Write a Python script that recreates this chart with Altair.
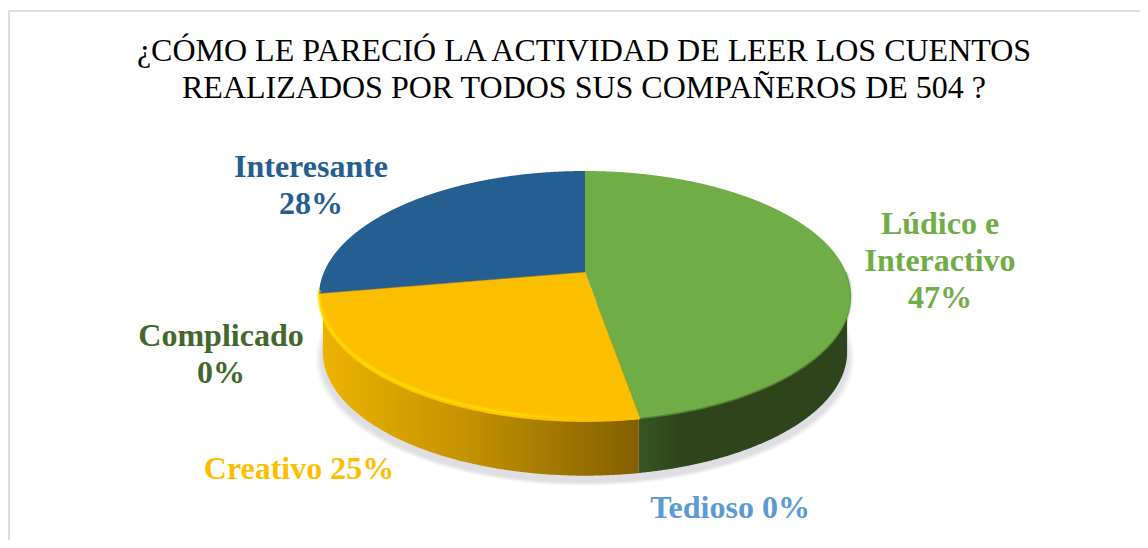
import numpy as np
import pandas as pd
import altair as alt

title_lines = ["¿CÓMO LE PARECIÓ LA ACTIVIDAD DE LEER LOS CUENTOS",
               "REALIZADOS POR TODOS SUS COMPAÑEROS DE 504 ?"]
title_y = [51, 88]
categories = ["Lúdico e Interactivo", "Tedioso", "Creativo", "Complicado", "Interesante"]
values = [47.25, 0, 25, 0, 27.75]
colors = ["#70AD47", "#5B9BD5", "#FCBF00", "#43682B", "#255E91"]
label_lines = [["Lúdico e", "Interactivo", "47%"], ["Tedioso 0%"], ["Creativo 25%"],
               ["Complicado", "0%"], ["Interesante", "28%"]]
label_x = [940, 730, 299, 221, 311]
label_y = [224, 508, 469, 336, 167]
LINE = 37

# page geometry
W, H = 1132, 532
X0, Y0 = 8, 8
xs = alt.Scale(domain=[X0, X0 + W], range=[0, W], nice=False, zero=False)
ys = alt.Scale(domain=[Y0 + H, Y0], range=[H, 0], nice=False, zero=False)

# perspective view of the pie disc
CX, CY, B, A, K, DEPTH, SB = 585.0, 272.0, 261.0, 120.7, 0.195, 56.0, 0.985


def project(theta, s=1.0, dy=0.0):
    u, v = np.sin(theta), np.cos(theta)
    d = 1 + K * v
    return CX + s * B * u / d, CY + dy - s * A * v / d


def span(px, py, n=240):
    """Upper / lower edge of a convex polygon as a function of x."""
    grid = np.unique(np.concatenate([np.linspace(px.min(), px.max(), n), px]))
    lo, hi = [], []
    x0, y0, x1, y1 = px, py, np.roll(px, -1), np.roll(py, -1)
    for g in grid:
        ys_ = []
        for a, b, c, d in zip(x0, y0, x1, y1):
            if min(a, c) - 1e-9 <= g <= max(a, c) + 1e-9:
                if abs(c - a) < 1e-9:
                    ys_ += [b, d]
                else:
                    ys_.append(b + (d - b) * (g - a) / (c - a))
        lo.append(min(ys_))
        hi.append(max(ys_))
    return pd.DataFrame({"x": grid, "y": lo, "y2": hi})


def area(df, **mark):
    return alt.Chart(df).mark_area(**mark).encode(
        x=alt.X("x:Q", scale=xs, axis=None),
        y=alt.Y("y:Q", scale=ys, axis=None),
        y2="y2:Q",
    )


def line(df, **mark):
    return alt.Chart(df).mark_line(**mark).encode(
        x=alt.X("x:Q", scale=xs, axis=None),
        y=alt.Y("y:Q", scale=ys, axis=None),
        order="i:Q",
    )


def grad(*stops):
    return alt.Gradient(gradient="linear", x1=0, x2=1, y1=0, y2=0,
                        stops=[alt.GradientStop(offset=o, color=c) for o, c in stops])


cum = np.cumsum([0] + values)
ang = 2 * np.pi * cum / cum[-1]
start = dict(zip(categories, ang[:-1]))
end = dict(zip(categories, ang[1:]))
t_split = end["Lúdico e Interactivo"]
t_yb = end["Complicado"]

layers = []

# frame
frame_h = pd.DataFrame({"x": [9], "x2": [1140], "y": [11]})
frame_v = pd.DataFrame({"x": [9], "y": [10], "y2": [540]})
layers.append(alt.Chart(frame_h).mark_rule(color="#DDDDDD", strokeWidth=2).encode(
    x=alt.X("x:Q", scale=xs, axis=None), x2="x2:Q", y=alt.Y("y:Q", scale=ys, axis=None)))
layers.append(alt.Chart(frame_v).mark_rule(color="#DDDDDD", strokeWidth=2).encode(
    x=alt.X("x:Q", scale=xs, axis=None), y=alt.Y("y:Q", scale=ys, axis=None), y2="y2:Q"))

# soft shadow
circle = np.linspace(0, 2 * np.pi, 361)[:-1]
for s, dy in [(1.012, 62), (1.006, 62), (1.000, 62), (0.995, 62), (0.990, 62)]:
    px, py = project(circle, s, dy)
    layers.append(area(span(px, py), color="#7F7F90", opacity=0.055))

# side wall
px, py = project(circle, SB, DEPTH)
full = span(px, py)
split_x = project(np.array([t_split]), SB, DEPTH)[0][0]
wall_r = full[full.x >= split_x - 1].assign(y=CY + 30)
wall_l = full[full.x <= split_x].assign(y=CY + 30)
layers.append(area(wall_r, color=grad((0, "#375523"), (0.2, "#2E451C"), (1, "#2E451B"))))
layers.append(area(wall_l, color=grad((0, "#EDB300"), (0.45, "#C49300"), (1, "#835F00"))))

# top surface slices
for c, v, col in zip(categories, values, colors):
    if v <= 0:
        continue
    t = np.linspace(start[c], end[c], 200)
    px, py = project(t)
    px = np.concatenate([[CX], px])
    py = np.concatenate([[CY], py])
    layers.append(area(span(px, py), color=col))

# rim highlights
t = np.linspace(np.pi * 0.5, t_split, 120)
px, py = project(t)
rim = pd.DataFrame({"x": px, "y": py, "i": range(len(t))})
layers.append(line(rim, strokeWidth=3, stroke=grad(
    (0, "rgba(46,69,28,0.45)"), (0.8, "rgba(46,69,28,0.45)"), (1, "rgba(46,69,28,0.15)"))))
t = np.linspace(t_split, t_yb, 120)
px, py = project(t)
rim = pd.DataFrame({"x": px, "y": py - 3.5, "i": range(len(t))})
layers.append(line(rim, strokeWidth=5, stroke=grad(
    (0, "rgba(255,222,0,0.35)"), (0.6, "rgba(255,222,0,0.35)"), (1, "rgba(252,191,0,0)"))))
layers.append(line(rim, strokeWidth=1.5, stroke=grad(
    (0, "rgba(255,225,0,0.8)"), (0.6, "rgba(255,225,0,0.8)"), (1, "rgba(252,191,0,0)"))))
# slice edge between blue and yellow
px, py = project(np.array([t_yb]))
edge = pd.DataFrame({"x": [CX, px[0]], "y": [CY, py[0]], "i": [0, 1]})
layers.append(line(edge, color="#7A6A30", strokeWidth=1, opacity=0.6))

# labels
rows = []
for c, lines, x, y in zip(categories, label_lines, label_x, label_y):
    for i, s in enumerate(lines):
        rows.append({"x": x, "y": y + i * LINE, "text": s, "cat": c})
labels = pd.DataFrame(rows)
layers.append(alt.Chart(labels).mark_text(
    font="Liberation Serif", fontWeight="bold", fontSize=32, baseline="middle", align="center"
).encode(
    x=alt.X("x:Q", scale=xs, axis=None),
    y=alt.Y("y:Q", scale=ys, axis=None),
    text="text:N",
    color=alt.Color("cat:N", scale=alt.Scale(domain=categories, range=colors), legend=None),
))

# title
titles = pd.DataFrame({"x": [584, 584], "y": title_y, "text": title_lines})
layers.append(alt.Chart(titles).mark_text(
    font="Liberation Serif", fontSize=32, baseline="middle", align="center", color="#000000"
).encode(
    x=alt.X("x:Q", scale=xs, axis=None),
    y=alt.Y("y:Q", scale=ys, axis=None),
    text="text:N",
))

chart = alt.layer(*layers).properties(
    width=W, height=H,
    padding=0,
    autosize=alt.AutoSizeParams(type="none"),
    background="white",
).configure_view(stroke=None)

chart.save("out.html", embed_options={"renderer": "svg", "actions": False})
